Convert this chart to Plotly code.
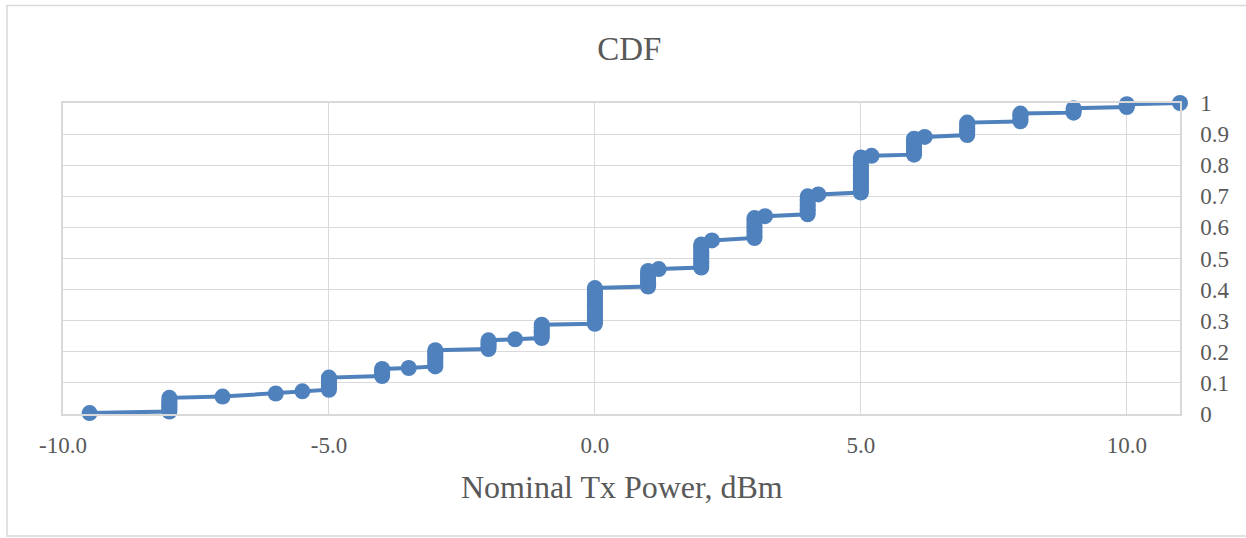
import plotly.graph_objects as go

# Nominal Tx power levels (dBm), in CDF order
power_levels = [-9.5, -8, -7, -6, -5.5, -5, -4, -3.5, -3, -2, -1.5, -1, 0,
                1, 1.2, 2, 2.2, 3, 3.2, 4, 4.2, 5, 5.2, 6, 6.2, 7, 8, 9, 10, 11]

# Cumulative probability values for the samples at each power level
cdf_at_level = [
    [0.003],
    [0.008, 0.014, 0.020, 0.026, 0.032, 0.038, 0.044, 0.052],
    [0.056],
    [0.066],
    [0.073],
    [0.078, 0.085, 0.092, 0.099, 0.106, 0.112, 0.117],
    [0.122, 0.128, 0.134, 0.140, 0.145],
    [0.148],
    [0.153, 0.160, 0.167, 0.174, 0.181, 0.188, 0.195, 0.200, 0.205],
    [0.209, 0.216, 0.223, 0.230, 0.237],
    [0.240],
    [0.244, 0.251, 0.258, 0.265, 0.272, 0.279, 0.287],
    [0.290, 0.297, 0.304, 0.311, 0.318, 0.325, 0.332, 0.339, 0.346, 0.353,
     0.360, 0.367, 0.374, 0.381, 0.388, 0.395, 0.400, 0.405],
    [0.410, 0.417, 0.424, 0.431, 0.438, 0.445, 0.452, 0.460],
    [0.466],
    [0.471, 0.478, 0.485, 0.492, 0.499, 0.506, 0.513, 0.520, 0.527, 0.534,
     0.540, 0.545],
    [0.558],
    [0.566, 0.574, 0.582, 0.590, 0.598, 0.606, 0.614, 0.622, 0.630],
    [0.636],
    [0.642, 0.650, 0.658, 0.666, 0.674, 0.682, 0.690, 0.700],
    [0.706],
    [0.712, 0.719, 0.726, 0.733, 0.740, 0.747, 0.754, 0.761, 0.768, 0.775,
     0.782, 0.789, 0.796, 0.803, 0.810, 0.817, 0.825],
    [0.830],
    [0.834, 0.841, 0.848, 0.855, 0.862, 0.869, 0.876, 0.885],
    [0.891],
    [0.897, 0.904, 0.911, 0.918, 0.925, 0.932, 0.937],
    [0.941, 0.948, 0.955, 0.961, 0.966],
    [0.969, 0.976, 0.983],
    [0.987, 0.992, 0.996],
    [1.0],
]

x_tickvals = [-10, -5, 0, 5, 10]
x_ticktext = ["-10.0", "-5.0", "0.0", "5.0", "10.0"]
y_tickvals = [0, 0.1, 0.2, 0.3, 0.4, 0.5, 0.6, 0.7, 0.8, 0.9, 1]
y_ticktext = ["0", "0.1", "0.2", "0.3", "0.4", "0.5", "0.6", "0.7", "0.8", "0.9", "1"]

power_dbm, cdf = [], []
for lvl, ys in zip(power_levels, cdf_at_level):
    for v in ys:
        power_dbm.append(lvl)
        cdf.append(v)

BLUE = "#4F81BD"
GRID = "#D9D9D9"
TEXT = "#595959"
FONT = "Liberation Serif"

fig = go.Figure()
fig.add_trace(go.Scatter(
    x=power_dbm, y=cdf, mode="lines+markers",
    line=dict(color=BLUE, width=4),
    marker=dict(color=BLUE, size=16),
    cliponaxis=False, showlegend=False,
))

W, H = 1246, 538
L, R, T, B = 63, 66, 103, 124
pw, ph = W - L - R, H - T - B

def px_x(px):
    return (px - L) / pw

def px_y(py):
    return (H - B - py) / ph

fig.update_layout(
    width=W, height=H,
    margin=dict(l=L, r=R, t=T, b=B),
    paper_bgcolor="white", plot_bgcolor="white",
    font=dict(family=FONT, color=TEXT),
    title=dict(text="CDF", x=0.505, xref="container", xanchor="center",
               y=1 - 48 / H, yref="container", yanchor="middle",
               font=dict(size=33, color=TEXT, family=FONT)),
    xaxis=dict(range=[-10, 11], tickvals=x_tickvals, ticktext=x_ticktext,
               showgrid=True, gridcolor=GRID, gridwidth=1.3,
               zeroline=False, showline=True, linecolor=GRID, linewidth=1.5,
               mirror=True, ticks="", ticklabelstandoff=10,
               tickfont=dict(size=23, color=TEXT, family=FONT)),
    yaxis=dict(range=[0, 1], side="right", tickvals=y_tickvals, ticktext=y_ticktext,
               showgrid=True, gridcolor=GRID, gridwidth=1.3,
               zeroline=False, showline=True, linecolor=GRID, linewidth=1.5,
               mirror=True, ticks="", ticklabelstandoff=14,
               tickfont=dict(size=23, color=TEXT, family=FONT)),
    annotations=[dict(text="Nominal Tx Power, dBm", x=0.5, y=px_y(487),
                      xref="paper", yref="paper", xanchor="center", yanchor="middle",
                      showarrow=False, font=dict(size=32, color=TEXT, family=FONT))],
    shapes=[dict(type="rect", xref="paper", yref="paper",
                 x0=px_x(7), x1=px_x(1248), y0=px_y(536), y1=px_y(5.5),
                 line=dict(color=GRID, width=1.5), layer="below")],
)

fig.write_html("out.html", config={"displayModeBar": False},
               post_script="document.body.style.margin='0';document.body.style.overflow='hidden';")
